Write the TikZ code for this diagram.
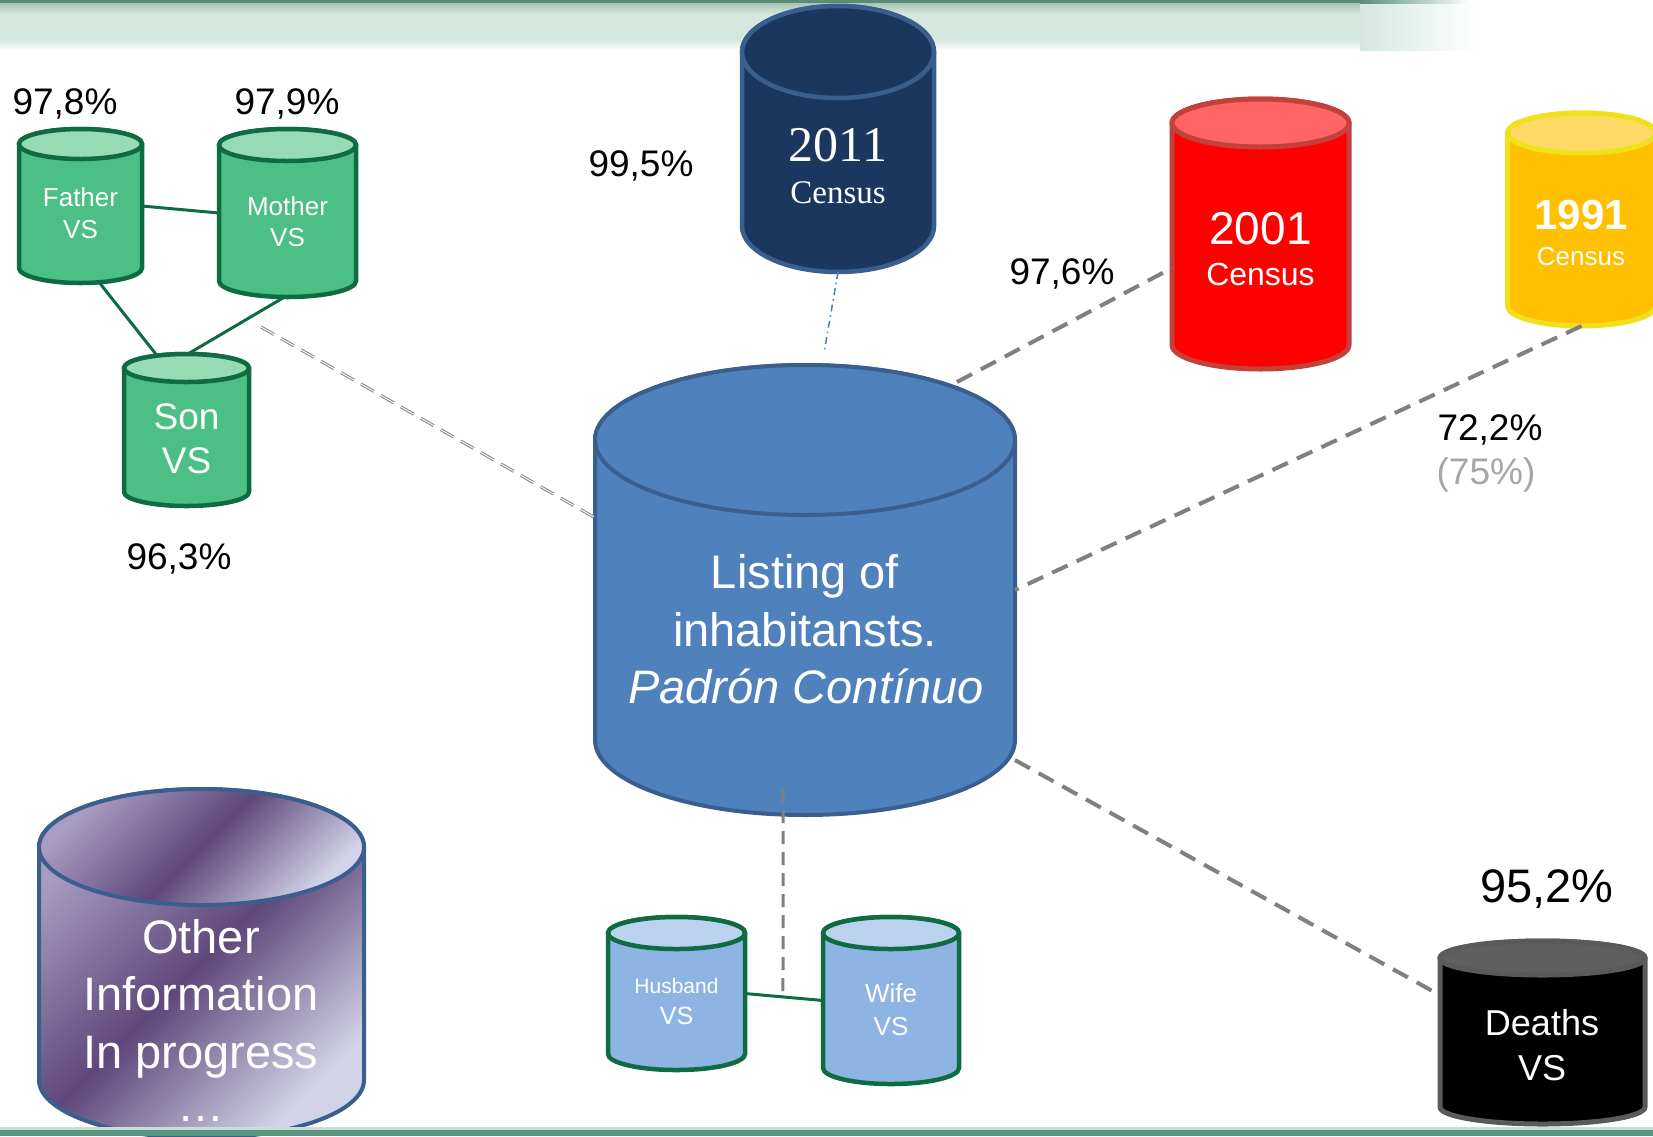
\documentclass[tikz,border=0pt]{standalone}
\usepackage{fontspec}
\setmainfont{Liberation Sans}
\newfontfamily\censusfont{Liberation Serif}
\usetikzlibrary{calc}

\definecolor{gFill}{HTML}{4CBF84}
\definecolor{gTop}{HTML}{97DBB5}
\definecolor{gStroke}{HTML}{0F6B41}
\definecolor{cFill}{HTML}{4F81BD}
\definecolor{cStroke}{HTML}{3A5F8F}
\definecolor{nFill}{HTML}{1B375F}
\definecolor{rFill}{HTML}{FF0000}
\definecolor{rTop}{HTML}{FF6565}
\definecolor{rStroke}{HTML}{C4403A}
\definecolor{yFill}{HTML}{FFC000}
\definecolor{yTop}{HTML}{FFD966}
\definecolor{yStroke}{HTML}{EFE21C}
\definecolor{dTop}{HTML}{5F5F5F}
\definecolor{dStroke}{HTML}{5A5A5A}
\definecolor{bFill}{HTML}{8DB4E2}
\definecolor{bTop}{HTML}{BBD2EE}
\definecolor{oLight}{HTML}{A99CC2}
\definecolor{oDark}{HTML}{5E487A}
\definecolor{oLight2}{HTML}{D2D3E8}
\definecolor{dashGray}{HTML}{808080}
\definecolor{dblGray}{HTML}{8C8C8C}
\definecolor{dotBlue}{HTML}{4A7EBB}
\definecolor{subGray}{HTML}{A6A6A6}
\definecolor{bandDark}{HTML}{5A8C78}
\definecolor{bandMid}{HTML}{A9C4B9}
\definecolor{bandLight}{HTML}{D5E8E0}
\definecolor{stripTeal}{HTML}{5A9580}
\definecolor{stripLight}{HTML}{C9DFD7}

% #1 style, #2 name, #3 cx, #4 top, #5 bottom, #6 rx, #7 ry
\newcommand\dbcyl[7][]{%
  \begin{scope}[#1]
    \pgfmathsetmacro\cyct{#4+#7}%
    \pgfmathsetmacro\cycb{#5-#7}%
    \path[cyl body] (#3-#6,\cyct) -- (#3-#6,\cycb)
      arc[start angle=180,end angle=0,x radius=#6,y radius=#7]
      -- (#3+#6,\cyct)
      arc[start angle=0,end angle=-180,x radius=#6,y radius=#7] -- cycle;
    \path[cyl top] (#3,\cyct) ellipse[x radius=#6,y radius=#7];
    \node[cylbox,minimum width={2*#6pt},minimum height={(#5-#4)*1pt}] (#2) at (#3,{(#4+#5)/2}) {};
  \end{scope}}

% #1 options, #2 name, #3 position, #4 size, #5 text
\newcommand\txtline[5][]{%
  \node[txt,#1,font=\fontsize{#4}{#4}\selectfont,text height={0.716*#4pt}] (#2) at (#3) {#5};}

\begin{document}
\begin{tikzpicture}[x=1pt,y=-1pt,
  cylbox/.style={draw=none,fill=none,inner sep=0pt,outer sep=0pt,rectangle},
  cyl body/.style={}, cyl top/.style={},
  txt/.style={inner sep=0pt,outer sep=0pt,text depth=0pt,anchor=center},
  greencyl/.style={cyl body/.style={fill=gFill,draw=gStroke,line width=4.5pt},
                   cyl top/.style={fill=gTop,draw=gStroke,line width=4.5pt}},
  bluecyl/.style={cyl body/.style={fill=bFill,draw=gStroke,line width=4.5pt},
                  cyl top/.style={fill=bTop,draw=gStroke,line width=4.5pt}},
  centralcyl/.style={cyl body/.style={fill=cFill,draw=cStroke,line width=4pt},
                     cyl top/.style={fill=cFill,draw=cStroke,line width=4pt}},
  navycyl/.style={cyl body/.style={fill=nFill,draw=cStroke,line width=4.5pt},
                   cyl top/.style={fill=nFill,draw=cStroke,line width=4.5pt}},
  redcyl/.style={cyl body/.style={fill=rFill,draw=rStroke,line width=5pt},
                 cyl top/.style={fill=rTop,draw=rStroke,line width=5pt}},
  yellowcyl/.style={cyl body/.style={fill=yFill,draw=yStroke,line width=5pt},
                    cyl top/.style={fill=yTop,draw=yStroke,line width=5pt}},
  blackcyl/.style={cyl body/.style={fill=black,draw=dStroke,line width=5pt},
                   cyl top/.style={fill=dTop,draw=dStroke,line width=5pt}},
  othercyl/.style={cyl body/.style={draw=cStroke,line width=4pt,top color=oLight,bottom color=oLight2,middle color=oDark,shading angle=45},
                   cyl top/.style={draw=cStroke,line width=4pt,top color=oLight,bottom color=oLight2,middle color=oDark,shading angle=45}},
  conn/.style={draw=dashGray,line width=4pt,dash pattern=on 17pt off 10pt},
  vconn/.style={draw=dashGray,line width=3pt,dash pattern=on 13pt off 8pt},
  dblconn/.style={draw=dblGray,line width=1.1pt,double=white,double distance=0.9pt,dash pattern=on 15pt off 8pt},
  dashdotblue/.style={draw=dotBlue,line width=1.5pt,dash pattern=on 7pt off 4pt on 1.5pt off 4pt},
  gline/.style={draw=gStroke,line width=3pt}
]
\useasboundingbox (0,0) rectangle (1653,1136);
\fill[white] (0,0) rectangle (1653,1136);

% top band
\fill[bandLight] (0,3) rectangle (1360,40);
\shade[top color=bandMid,bottom color=bandLight] (0,3) rectangle (1360,14);
\shade[top color=bandLight,bottom color=white] (0,40) rectangle (1360,50);
\shade[left color=bandLight,right color=white] (1360,3) rectangle (1480,50);
\shade[left color=bandDark,right color=white] (1360,0) rectangle (1470,3);
\fill[bandDark] (0,0) rectangle (1360,3);

% cylinders
\dbcyl[greencyl]{father}{80.5}{129}{283}{61.5}{15}
\dbcyl[greencyl]{mother}{287.5}{129}{297}{68.5}{16}
\dbcyl[greencyl]{son}{186.5}{354}{506}{62.5}{14}
\dbcyl[navycyl]{c2011}{838}{6}{272}{96}{46}
\dbcyl[centralcyl]{central}{805}{365}{815}{210}{75}
\dbcyl[redcyl]{c2001}{1260.5}{99}{369}{88.5}{24}
\dbcyl[yellowcyl]{c1991}{1581.5}{113}{326}{74}{20}
\dbcyl[blackcyl]{deaths}{1542.5}{941}{1124}{102.5}{17}
\dbcyl[othercyl]{other}{201.5}{789}{1138}{162.5}{58}
\dbcyl[bluecyl]{husband}{676.5}{917}{1070}{68.5}{16}
\dbcyl[bluecyl]{wife}{891}{917}{1084}{68}{16}

% connectors
\coordinate (mdash) at (261,327);
\coordinate (dd2011) at (824,353);
\coordinate (d2001s) at (957,382);
\coordinate (vtop) at (783,789);
\coordinate (hwmid) at ($(husband.east)!0.487!(wife.west)$);

\draw[dblconn] (mdash) -- (central.161.5);
\draw[dashdotblue] (c2011.south) -- (dd2011);
\draw[conn] (d2001s) -- (c2001.201.9);
\draw[conn] (c1991.south) -- (central.east);
\draw[conn] (central.321.2) -- (deaths.160.6);

\draw[gline] (father.east) -- (mother.west);
\draw[gline] (father.284.5) -- (son.112);
\draw[gline] (mother.268) -- (son.89);
\draw[gline] (husband.east) -- (wife.west);
\draw[vconn] (vtop) -- (hwmid);

% texts in cylinders
\txtline[text=white]{tFa}{80.5,197.5}{26}{Father}
\txtline[text=white]{tFb}{80.5,229}{26}{VS}
\txtline[text=white]{tMa}{287.5,206}{26}{Mother}
\txtline[text=white]{tMb}{287.5,237.5}{26}{VS}
\txtline[text=white]{tSa}{186.5,416}{37}{Son}
\txtline[text=white]{tSb}{186.5,460}{37}{VS}
\txtline[text=white]{t11a}{838,143.5}{50}{\censusfont 2011}
\txtline[text=white]{t11b}{838,191.5}{33}{\censusfont Census}
\txtline[text=white]{t01a}{1260.5,228.5}{46}{2001}
\txtline[text=white]{t01b}{1260.5,274.5}{32}{Census}
\txtline[text=white]{t91a}{1581,214}{42}{\bfseries 1991}
\txtline[text=white]{t91b}{1581,256}{26}{Census}
\txtline[text=white]{tLa}{805,571.5}{47}{Listing of}
\txtline[text=white]{tLb}{805,629.5}{47}{inhabitansts.}
\txtline[text=white]{tLc}{806,686.5}{47}{\itshape Padrón Contínuo}
\txtline[text=white]{tOa}{201,936.5}{47}{Other}
\txtline[text=white]{tOb}{201,994}{47}{Information}
\txtline[text=white]{tOc}{201,1052}{47}{In progress}
\txtline[text=white]{tOd}{201,1105}{47}{…}
\txtline[text=white]{tHa}{676.5,985.5}{21}{Husband}
\txtline[text=white]{tHb}{676.5,1016}{25}{VS}
\txtline[text=white]{tWa}{891,993}{26}{Wife}
\txtline[text=white]{tWb}{891,1026}{26}{VS}
\txtline[text=white]{tDa}{1542,1023}{36}{Deaths}
\txtline[text=white]{tDb}{1542,1068}{36}{VS}

% percentages
\txtline{p978}{65,101.5}{37}{97,8\%}
\txtline{p979}{287,101.5}{37}{97,9\%}
\txtline{p963}{179,556}{37}{96,3\%}
\txtline{p995}{641,163}{37}{99,5\%}
\txtline{p976}{1062,271}{37}{97,6\%}
\txtline{p722}{1490,427}{37}{72,2\%}
\txtline[text=subGray]{p75}{1486,471}{37}{(75\%)}
\txtline{p952}{1547,886}{47}{95,2\%}

% bottom strip
\fill[stripLight] (0,1127) rectangle (1653,1130);
\fill[stripTeal] (0,1130) rectangle (1653,1136);
\end{tikzpicture}
\end{document}
